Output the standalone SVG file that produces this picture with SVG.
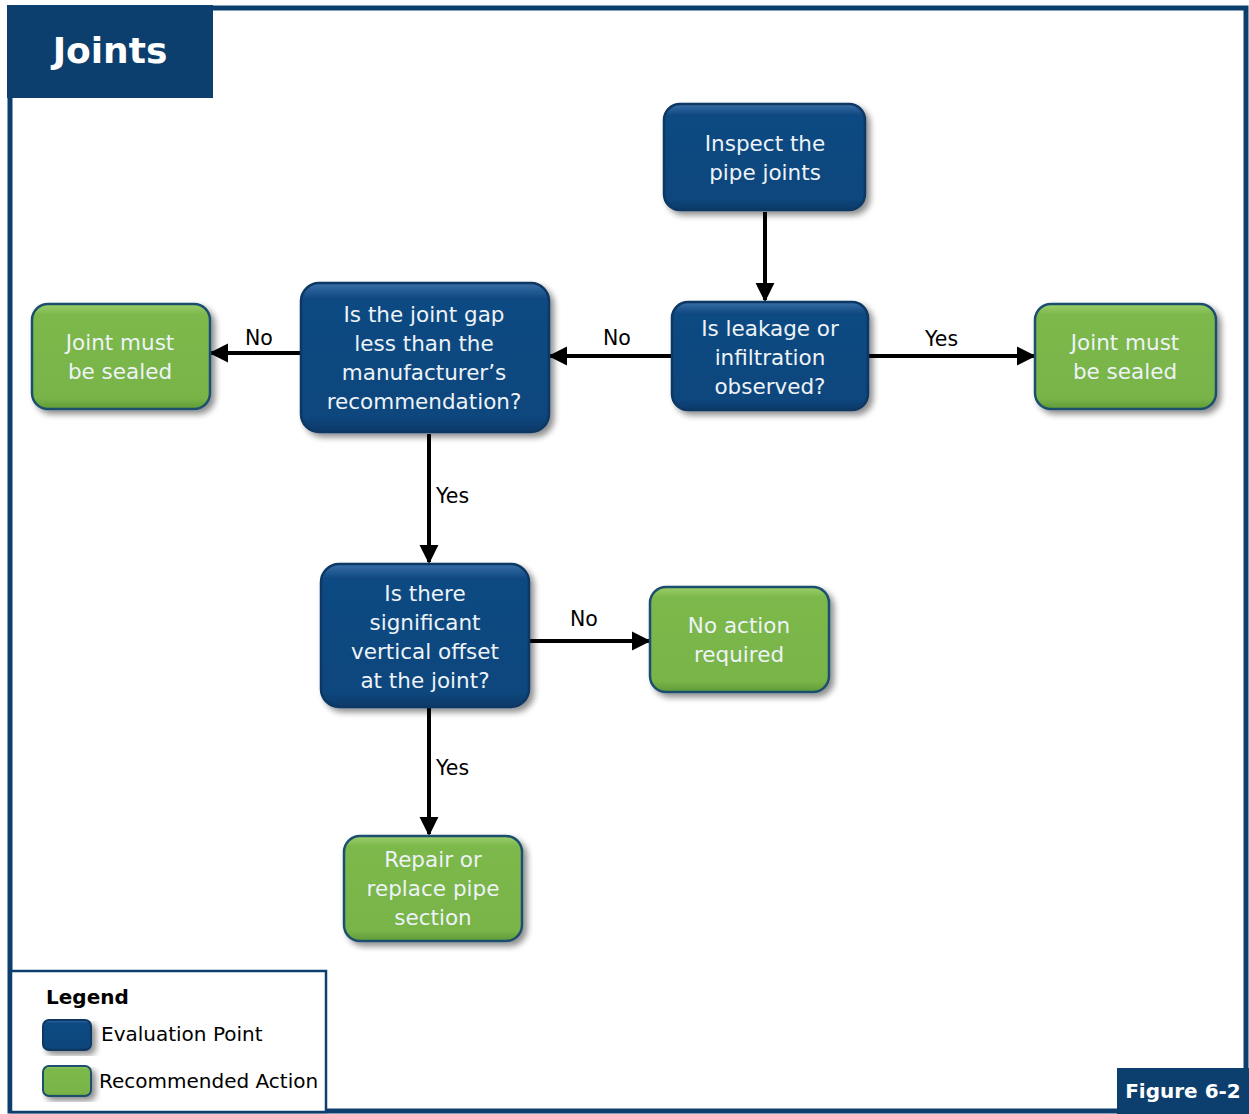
<svg xmlns="http://www.w3.org/2000/svg" width="1249" height="1114" viewBox="0 0 1249 1114">
  <defs>
    <linearGradient id="gBlue" x1="0" y1="0" x2="0" y2="1">
      <stop offset="0" stop-color="#3a6fa8"/>
      <stop offset="0.1" stop-color="#114a82"/>
      <stop offset="0.9" stop-color="#0e467d"/>
      <stop offset="1" stop-color="#0b3a68"/>
    </linearGradient>
    <linearGradient id="gGreen" x1="0" y1="0" x2="0" y2="1">
      <stop offset="0" stop-color="#9ccf6c"/>
      <stop offset="0.1" stop-color="#7cb84b"/>
      <stop offset="0.9" stop-color="#78b447"/>
      <stop offset="1" stop-color="#5f9a38"/>
    </linearGradient>
    <filter id="shadow" x="-10%" y="-10%" width="130%" height="130%">
      <feGaussianBlur in="SourceAlpha" stdDeviation="3"/>
      <feOffset dx="4" dy="4" result="b"/>
      <feComponentTransfer><feFuncA type="linear" slope="0.45"/></feComponentTransfer>
      <feMerge><feMergeNode/><feMergeNode in="SourceGraphic"/></feMerge>
    </filter>
    <marker id="arrow" viewBox="0 0 10 10" refX="9" refY="5" markerWidth="4.8" markerHeight="4.8" orient="auto" markerUnits="strokeWidth">
      <path d="M0,0 L10,5 L0,10 z" fill="#000"/>
    </marker>
  </defs>
  <style>
    .eval { fill: url(#gBlue); stroke: #0b3763; stroke-width: 2.5; filter: url(#shadow); }
    .act { fill: url(#gGreen); stroke: #1d4f6e; stroke-width: 2.5; filter: url(#shadow); }
    .nt { font-family: "DejaVu Sans", "Liberation Sans", sans-serif; font-size: 21.5px; fill: #eef3f8; text-anchor: middle; }
    .lbl { font-family: "DejaVu Sans", "Liberation Sans", sans-serif; font-size: 20.5px; fill: #000000; }
    .conn { stroke: #000; stroke-width: 4; fill: none; marker-end: url(#arrow); }
  </style>

  <!-- frame -->
  <rect x="0" y="0" width="1249" height="1114" fill="#ffffff"/>
  <rect x="10" y="8" width="1236" height="1103" fill="none" stroke="#0d3f6e" stroke-width="5"/>
  <rect x="7" y="5" width="206" height="93" fill="#0d3f6e"/>
  <text x="110" y="63" font-family="DejaVu Sans, Liberation Sans, sans-serif" font-size="36" font-weight="bold" fill="#ffffff" text-anchor="middle">Joints</text>

  <!-- connectors -->
  <g id="connectors">
    <line class="conn" x1="765" y1="212" x2="765" y2="300"/>
    <line class="conn" x1="672" y1="356" x2="550" y2="356"/>
    <line class="conn" x1="868" y1="356" x2="1034" y2="356"/>
    <line class="conn" x1="301" y1="353" x2="211" y2="353"/>
    <line class="conn" x1="429" y1="434" x2="429" y2="562"/>
    <line class="conn" x1="529" y1="641" x2="649" y2="641"/>
    <line class="conn" x1="429" y1="708" x2="429" y2="834"/>
    <text class="lbl" x="603" y="345">No</text>
    <text class="lbl" x="925" y="346">Yes</text>
    <text class="lbl" x="245" y="345">No</text>
    <text class="lbl" x="436" y="503">Yes</text>
    <text class="lbl" x="570" y="626">No</text>
    <text class="lbl" x="436" y="775">Yes</text>
  </g>

  <g id="inspect">
    <rect class="eval" x="664" y="104" width="201" height="106" rx="16"/>
    <text class="nt" x="765" y="151">Inspect the</text>
    <text class="nt" x="765" y="180">pipe joints</text>
  </g>

  <g id="leakage">
    <rect class="eval" x="672" y="302" width="196" height="108" rx="16"/>
    <text class="nt" x="770" y="336">Is leakage or</text>
    <text class="nt" x="770" y="365">infiltration</text>
    <text class="nt" x="770" y="394">observed?</text>
  </g>

  <g id="gap">
    <rect class="eval" x="301" y="283" width="248" height="149" rx="18"/>
    <text class="nt" x="424" y="322">Is the joint gap</text>
    <text class="nt" x="424" y="351">less than the</text>
    <text class="nt" x="424" y="380">manufacturer’s</text>
    <text class="nt" x="424" y="409">recommendation?</text>
  </g>

  <g id="sealed-left">
    <rect class="act" x="32" y="304" width="178" height="105" rx="16"/>
    <text class="nt" x="120" y="350">Joint must</text>
    <text class="nt" x="120" y="379">be sealed</text>
  </g>

  <g id="sealed-right">
    <rect class="act" x="1035" y="304" width="181" height="105" rx="16"/>
    <text class="nt" x="1125" y="350">Joint must</text>
    <text class="nt" x="1125" y="379">be sealed</text>
  </g>

  <g id="offset">
    <rect class="eval" x="321" y="564" width="208" height="143" rx="18"/>
    <text class="nt" x="425" y="601">Is there</text>
    <text class="nt" x="425" y="630">significant</text>
    <text class="nt" x="425" y="659">vertical offset</text>
    <text class="nt" x="425" y="688">at the joint?</text>
  </g>

  <g id="no-action">
    <rect class="act" x="650" y="587" width="179" height="105" rx="16"/>
    <text class="nt" x="739" y="633">No action</text>
    <text class="nt" x="739" y="662">required</text>
  </g>

  <g id="repair">
    <rect class="act" x="344" y="836" width="178" height="105" rx="16"/>
    <text class="nt" x="433" y="867">Repair or</text>
    <text class="nt" x="433" y="896">replace pipe</text>
    <text class="nt" x="433" y="925">section</text>
  </g>

  <!-- legend -->
  <g id="legend">
    <rect x="11" y="971" width="315" height="141" fill="#ffffff" stroke="#0d3f6e" stroke-width="2.5"/>
    <text x="46" y="1004" font-family="DejaVu Sans, Liberation Sans, sans-serif" font-size="20" font-weight="bold" fill="#000">Legend</text>
    <rect class="eval" x="43" y="1020" width="48" height="30" rx="6" style="stroke-width:2"/>
    <text class="lbl" x="101" y="1041" style="font-size:20px">Evaluation Point</text>
    <rect class="act" x="43" y="1066" width="48" height="30" rx="6" style="stroke-width:2"/>
    <text class="lbl" x="99" y="1088" style="font-size:20px">Recommended Action</text>
  </g>

  <rect x="1117" y="1068" width="132" height="46" fill="#0d3f6e"/>
  <text x="1183" y="1098" font-family="DejaVu Sans, Liberation Sans, sans-serif" font-size="20" font-weight="bold" fill="#ffffff" text-anchor="middle">Figure 6-2</text>
</svg>
